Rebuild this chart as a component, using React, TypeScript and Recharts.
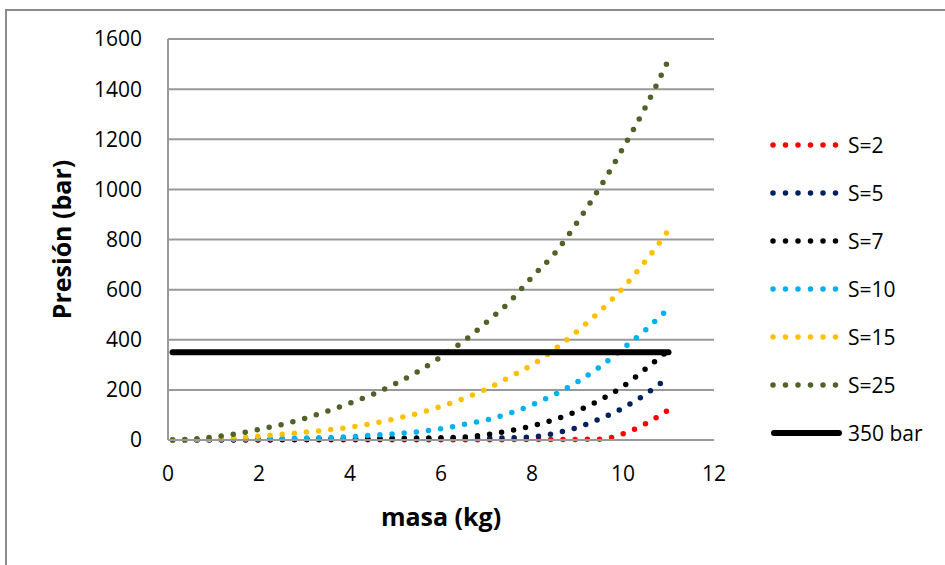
import React from 'react';
import { LineChart, Line, XAxis, YAxis, CartesianGrid, Label } from 'recharts';

// masa (kg) sample points
const masa = [0.1, 0.5, 1, 1.5, 2, 2.5, 3, 3.5, 4, 4.5, 5, 5.5, 6, 6.5, 7, 7.5, 8, 8.5, 9, 9.5, 10, 10.5, 11];

// presión (bar)
const s2 = [0, 0.1, 0.2, 0.3, 0.4, 0.5, 0.6, 0.7, 0.8, 0.9, 1, 1.1, 1.2, 1.3, 1.4, 1.5, 1.7, 2, 2.3, 3, 25, 65, 120];
const s5 = [0, 0.3, 0.6, 1, 1.3, 1.6, 2, 2.5, 3, 3.5, 4, 4.5, 5, 6, 7, 9, 12, 27, 50, 85, 128, 183, 250];
const s7 = [0, 0.5, 1, 1.5, 2, 2.5, 3, 4, 5, 6, 7, 8, 9, 12, 21, 37, 56, 82, 116, 160, 214, 284, 358];
const s10 = [0, 0.5, 1, 2, 4, 6, 8, 10, 13, 19, 25, 33, 45, 62, 80, 106, 140, 182, 232, 293, 365, 440, 525];
const s15 = [0, 1, 4, 9, 15, 23, 31, 40, 51, 66, 85, 107, 134, 165, 204, 250, 300, 362, 435, 515, 607, 715, 837];
const s25 = [0, 3, 12, 25, 42, 62, 86, 115, 147, 182, 225, 274, 332, 395, 470, 550, 650, 745, 870, 1010, 1165, 1330, 1517];
const limite = 350;

const xTicks = [0, 2, 4, 6, 8, 10, 12];
const yTicks = [0, 200, 400, 600, 800, 1000, 1200, 1400, 1600];

const series = [
  { key: 's2', name: 'S=2', values: s2, color: '#FF0000' },
  { key: 's5', name: 'S=5', values: s5, color: '#002060' },
  { key: 's7', name: 'S=7', values: s7, color: '#000000' },
  { key: 's10', name: 'S=10', values: s10, color: '#00B0F0' },
  { key: 's15', name: 'S=15', values: s15, color: '#FFC000' },
  { key: 's25', name: 'S=25', values: s25, color: '#4F6228' },
];

const data = masa.map((m, i) => {
  const row: Record<string, number> = { masa: m, bar350: limite };
  series.forEach((s) => {
    row[s.key] = s.values[i];
  });
  return row;
});

const FONT = '"Open Sans", "Noto Sans", sans-serif';

const ChartLegend = () => (
  <div style={{ position: 'absolute', left: 768, top: 121, width: 177, fontFamily: FONT, fontSize: 21, color: '#000' }}>
    {series.map((s) => (
      <div key={s.key} style={{ display: 'flex', alignItems: 'center', height: 48 }}>
        <svg width={80} height={10}>
          <line x1={5} y1={5} x2={69} y2={5} stroke={s.color} strokeWidth={5.5}
            strokeDasharray="0 12.5" strokeLinecap="round" />
        </svg>
        <span>{s.name}</span>
      </div>
    ))}
    <div style={{ display: 'flex', alignItems: 'center', height: 48 }}>
      <svg width={80} height={10}>
        <line x1={6} y1={5} x2={71} y2={5} stroke="#000" strokeWidth={6} strokeLinecap="round" />
      </svg>
      <span>350 bar</span>
    </div>
  </div>
);

export default function App() {
  return (
    <div style={{ position: 'absolute', left: 0, top: 0, width: 945, height: 565, background: '#fff', fontFamily: FONT, overflow: 'hidden' }}>
      <div style={{ position: 'absolute', left: 5, top: 9, width: 950, height: 570, borderTop: '2px solid #8a8a8a', borderLeft: '2px solid #8a8a8a' }} />
      <LineChart width={945} height={565} data={data}
        margin={{ top: 39, right: 231, bottom: 35, left: 0 }}>
        <CartesianGrid vertical={false} stroke="#999" strokeWidth={2} />
        <XAxis dataKey="masa" type="number" domain={[0, 12]} ticks={xTicks}
          axisLine={{ stroke: '#999', strokeWidth: 2 }} tickLine={false} tickSize={6} tickMargin={20}
          height={90} tick={{ fontSize: 21, fill: '#000', fontFamily: FONT }}>
          <Label value="masa (kg)" position="insideBottom" offset={4}
            style={{ fontSize: 25, fontWeight: 700, fill: '#000', fontFamily: FONT }} />
        </XAxis>
        <YAxis type="number" domain={[0, 1600]} ticks={yTicks} width={168}
          axisLine={{ stroke: '#999', strokeWidth: 2 }} tickLine={false} tickSize={6} tickMargin={20}
          tick={{ fontSize: 21, fill: '#000', fontFamily: FONT }}>
          <Label value="Presión (bar)" angle={-90} position="center" dx={-22}
            style={{ fontSize: 25, fontWeight: 700, fill: '#000', fontFamily: FONT, textAnchor: 'middle' }} />
        </YAxis>
        {series.map((s) => (
          <Line key={s.key} dataKey={s.key} name={s.name} type="monotone" stroke={s.color}
            strokeWidth={5.5} strokeDasharray="0 12.2" strokeLinecap="round" dot={false}
            isAnimationActive={false} />
        ))}
        <Line dataKey="bar350" name="350 bar" type="linear" stroke="#000" strokeWidth={6}
          strokeLinecap="round" dot={false} isAnimationActive={false} />
      </LineChart>
      <ChartLegend />
    </div>
  );
}
